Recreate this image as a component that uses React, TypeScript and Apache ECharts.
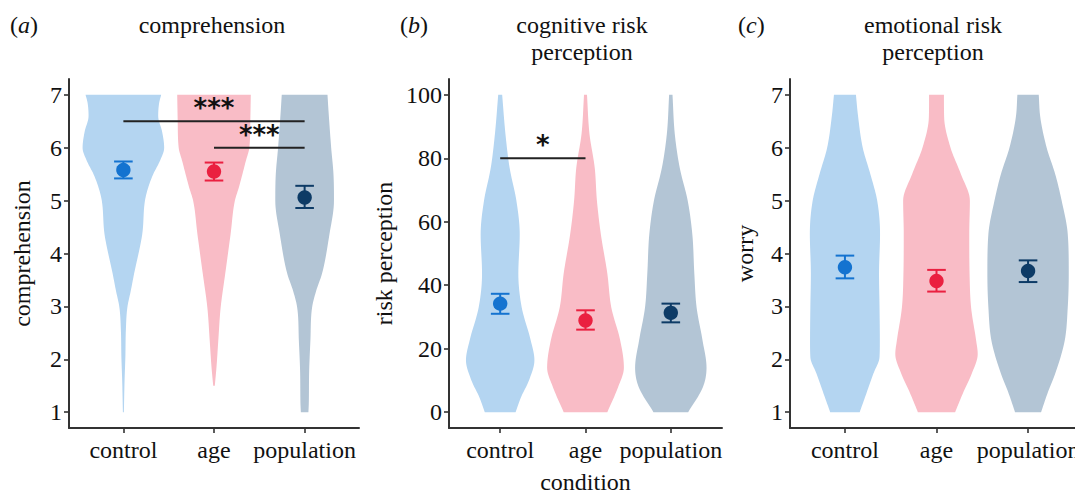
import React, { useEffect, useRef } from "react";
import * as echarts from "echarts";

const categories = ["control", "age", "population"];
const catPos = [1, 2, 3];

// violin outlines: [level, relative density width]
const compControl = [[1, 0.5], [1.6, 1.2], [2.04, 2], [2.55, 2.5], [2.98, 4], [3.3, 7.5], [3.62, 10.8], [4.37, 19], [5.0, 21.7], [5.25, 25], [5.5, 30], [5.75, 36.7], [6.0, 41], [6.3, 39], [6.6, 35], [6.85, 36], [7.0, 38]];
const compAge = [[1.5, 0.8], [1.85, 2.5], [2.35, 4.3], [2.98, 6.7], [3.62, 11.3], [4.37, 16.7], [5.0, 21], [5.25, 25], [5.75, 32], [6.0, 35.5], [6.5, 36.5], [7.0, 37]];
const compPop = [[1.0, 3.8], [1.17, 4.2], [1.73, 4.5], [2.35, 5.8], [2.98, 7.5], [3.3, 11.7], [3.62, 17.5], [4.37, 25], [5.0, 29.5], [5.5, 29], [6.0, 26.7], [6.7, 24], [7.0, 23]];

const riskControl = [[0, 15.5], [4.7, 21], [10, 29], [16.4, 34.5], [22.6, 30.8], [33, 21.7], [43.7, 18.3], [56, 19.7], [66.7, 16.3], [77, 9.5], [87.7, 5.3], [100, 2]];
const riskAge = [[0, 22], [8, 33], [14, 38.7], [22.6, 35], [33, 26], [43.7, 22], [56, 15.5], [66.7, 11.5], [77, 9.3], [87.7, 4], [100, 1.5]];
const riskPop = [[0, 17.5], [8, 32.5], [14, 36], [22.6, 32], [33, 26], [43.7, 23.7], [56, 21.7], [66.7, 17], [77, 9], [87.7, 4], [100, 1.7]];

const worryControl = [[1, 14.5], [1.35, 21], [1.73, 28], [2.04, 34], [2.35, 34.3], [2.98, 34], [3.62, 33.5], [4.37, 34.5], [5.0, 31.7], [5.5, 25], [6.0, 17.5], [6.58, 13], [7.0, 10.8]];
const worryAge = [[1, 18.3], [1.35, 25.8], [1.73, 34.7], [2.1, 40.5], [2.35, 39], [2.98, 34], [3.62, 32.5], [4.37, 32.2], [5.0, 32.8], [5.5, 24], [6.0, 13.8], [6.58, 7.5], [7.0, 7.3]];
const worryPop = [[1, 12.8], [1.35, 19], [1.73, 26.7], [2.35, 36], [2.98, 39], [3.62, 40], [4.37, 39], [5.0, 33], [5.5, 26.7], [6.0, 18.3], [6.58, 12], [7.0, 10.5]];

// means and error bars
const compMean = [5.58, 5.55, 5.06];
const compLo = [5.42, 5.38, 4.86];
const compHi = [5.74, 5.72, 5.28];
const riskMean = [34.2, 28.9, 31.3];
const riskLo = [31.0, 26.0, 28.3];
const riskHi = [37.3, 32.1, 34.2];
const worryMean = [3.74, 3.48, 3.67];
const worryLo = [3.53, 3.28, 3.46];
const worryHi = [3.96, 3.69, 3.87];

// significance brackets: [from, to, level]
const compSig = [[1, 3, 6.5], [2, 3, 6.0]];
const compSigLabels = ["***", "***"];
const riskSig = [[1, 2, 80]];
const riskSigLabels = ["*"];

const likertTicks = [1, 2, 3, 4, 5, 6, 7];
const riskTicks = [0, 20, 40, 60, 80, 100];

const violinColors = ["#b4d5f1", "#f9bcc6", "#b3c5d5"];
const pointColors = ["#1473d0", "#ea2040", "#0d3b66"];

const SERIF = "Liberation Serif";
const FS = 24;
const AXIS_COLOR = "#333333";
const TEXT_COLOR = "#111111";

// monotone cubic sampling of an outline (rendering only, for a smooth edge)
function smoothOutline(pts: number[][]): number[][] {
  const n = pts.length;
  if (n < 3) return pts;
  const xs = pts.map((p) => p[0]);
  const ys = pts.map((p) => p[1]);
  const d: number[] = [];
  for (let i = 0; i < n - 1; i++) d.push((ys[i + 1] - ys[i]) / (xs[i + 1] - xs[i]));
  const m: number[] = new Array(n).fill(0);
  m[0] = d[0];
  m[n - 1] = d[n - 2];
  for (let i = 1; i < n - 1; i++) m[i] = d[i - 1] * d[i] <= 0 ? 0 : (d[i - 1] + d[i]) / 2;
  for (let i = 0; i < n - 1; i++) {
    if (d[i] === 0) { m[i] = 0; m[i + 1] = 0; continue; }
    const a = m[i] / d[i];
    const b = m[i + 1] / d[i];
    const s = a * a + b * b;
    if (s > 9) {
      const t = 3 / Math.sqrt(s);
      m[i] = t * a * d[i];
      m[i + 1] = t * b * d[i];
    }
  }
  const out: number[][] = [];
  const steps = 10;
  for (let i = 0; i < n - 1; i++) {
    const h = xs[i + 1] - xs[i];
    for (let k = 0; k < steps; k++) {
      const t = k / steps;
      const t2 = t * t, t3 = t2 * t;
      const h00 = 2 * t3 - 3 * t2 + 1, h10 = t3 - 2 * t2 + t, h01 = -2 * t3 + 3 * t2, h11 = t3 - t2;
      const y = h00 * ys[i] + h10 * h * m[i] + h01 * ys[i + 1] + h11 * h * m[i + 1];
      out.push([xs[i] + t * h, Math.max(0, y)]);
    }
  }
  out.push([xs[n - 1], ys[n - 1]]);
  return out;
}

function violinRender(shapes: number[][][], maxHw: number) {
  let maxD = 0;
  shapes.forEach((s) => s.forEach((p) => { if (p[1] > maxD) maxD = p[1]; }));
  const scale = maxHw / maxD;
  const smooth = shapes.map(smoothOutline);
  return (params: any, api: any) => {
    const i = params.dataIndex;
    const cx = api.value(0);
    const pts = smooth[i];
    const right = pts.map(([y, w]) => api.coord([cx + w * scale, y]));
    const left = pts.slice().reverse().map(([y, w]) => api.coord([cx - w * scale, y]));
    return {
      type: "polygon",
      shape: { points: right.concat(left) },
      style: { fill: violinColors[i] },
    };
  };
}

function errRender(params: any, api: any) {
  const x = api.value(0);
  const m = api.value(1);
  const lo = api.value(2);
  const hi = api.value(3);
  const pM = api.coord([x, m]);
  const pL = api.coord([x, lo]);
  const pH = api.coord([x, hi]);
  const c = pointColors[params.dataIndex];
  const cap = 9.3;
  const st = { stroke: c, lineWidth: 2 };
  return {
    type: "group",
    children: [
      { type: "line", shape: { x1: pL[0], y1: pL[1], x2: pH[0], y2: pH[1] }, style: st },
      { type: "line", shape: { x1: pL[0] - cap, y1: pL[1], x2: pL[0] + cap, y2: pL[1] }, style: st },
      { type: "line", shape: { x1: pH[0] - cap, y1: pH[1], x2: pH[0] + cap, y2: pH[1] }, style: st },
      { type: "circle", shape: { cx: pM[0], cy: pM[1], r: 7.2 }, style: { fill: c } },
    ],
  };
}

function sigRender(labels: string[]) {
  return (params: any, api: any) => {
    const a = api.coord([api.value(0), api.value(2)]);
    const b = api.coord([api.value(1), api.value(2)]);
    const mid = (a[0] + b[0]) / 2;
    return {
      type: "group",
      children: [
        { type: "line", shape: { x1: a[0], y1: a[1], x2: b[0], y2: b[1] }, style: { stroke: "#222", lineWidth: 2 } },
        {
          type: "text",
          style: {
            text: labels[params.dataIndex],
            x: mid,
            y: a[1],
            align: "center",
            textAlign: "center",
            verticalAlign: "bottom",
            textVerticalAlign: "bottom",
            fontSize: 26,
            fontWeight: "bold",
            fontFamily: "DejaVu Sans",
            fill: "#111",
          },
        },
      ],
    };
  };
}

function xAxis(gridIndex: number, name: string) {
  return {
    type: "value",
    gridIndex,
    min: 0.4,
    max: 3.6,
    name,
    nameLocation: "middle",
    nameGap: 42,
    nameTextStyle: { fontFamily: SERIF, fontSize: FS, color: TEXT_COLOR },
    splitLine: { show: false },
    axisLine: { show: true, onZero: false, lineStyle: { color: AXIS_COLOR, width: 2 } },
    axisTick: { show: true, length: 5, customValues: catPos, lineStyle: { color: AXIS_COLOR, width: 1.6 } },
    axisLabel: {
      customValues: catPos,
      margin: 10,
      fontFamily: SERIF,
      fontSize: FS,
      color: TEXT_COLOR,
      formatter: (v: number) => categories[Math.round(v) - 1] || "",
    },
  };
}

function yAxis(gridIndex: number, min: number, max: number, ticks: number[], name: string, gap: number) {
  return {
    type: "value",
    gridIndex,
    min,
    max,
    name,
    nameLocation: "middle",
    nameGap: gap,
    nameTextStyle: { fontFamily: SERIF, fontSize: FS, color: TEXT_COLOR },
    splitLine: { show: false },
    axisLine: { show: true, onZero: false, lineStyle: { color: AXIS_COLOR, width: 2 } },
    axisTick: { show: true, length: 5, customValues: ticks, lineStyle: { color: AXIS_COLOR, width: 1.6 } },
    axisLabel: { customValues: ticks, margin: 7, fontFamily: SERIF, fontSize: FS, color: TEXT_COLOR },
  };
}

function errData(mean: number[], lo: number[], hi: number[]) {
  return catPos.map((p, i) => [p, mean[i], lo[i], hi[i]]);
}

function titleText(x: number, text: string) {
  return {
    type: "text",
    x,
    y: 11,
    style: {
      text,
      align: "center",
      textAlign: "center",
      verticalAlign: "top",
      textVerticalAlign: "top",
      fontFamily: SERIF,
      fontSize: FS,
      lineHeight: 27,
      fill: TEXT_COLOR,
    },
  };
}

function tagText(x: number, letter: string) {
  return {
    type: "text",
    x,
    y: 11,
    style: {
      text: "{n|(}{i|" + letter + "}{n|)}",
      align: "left",
      verticalAlign: "top",
      fontFamily: SERIF,
      fontSize: FS,
      lineHeight: 27,
      fill: TEXT_COLOR,
      rich: {
        n: { fontFamily: SERIF, fontSize: FS, lineHeight: 27, fill: TEXT_COLOR, color: TEXT_COLOR },
        i: { fontFamily: SERIF, fontSize: FS, lineHeight: 27, fontStyle: "italic", fill: TEXT_COLOR, color: TEXT_COLOR },
      },
    },
  };
}

export default function App() {
  const ref = useRef<HTMLDivElement>(null);
  useEffect(() => {
    if (!ref.current) return;
    const chart = echarts.init(ref.current, undefined, { renderer: "svg" });
    const gridBase = { top: 79, height: 349, containLabel: false, outerBoundsMode: "none" };
    const option: any = {
      animation: false,
      backgroundColor: "#ffffff",
      grid: [
        { ...gridBase, left: 69, width: 290 },
        { ...gridBase, left: 449, width: 273 },
        { ...gridBase, left: 790, width: 293 },
      ],
      xAxis: [xAxis(0, ""), xAxis(1, "condition"), xAxis(2, "")],
      yAxis: [
        yAxis(0, 0.7, 7.3, likertTicks, "comprehension", 35),
        yAxis(1, -5, 105, riskTicks, "risk perception", 53),
        yAxis(2, 0.7, 7.3, likertTicks, "worry", 33),
      ],
      series: [
        { type: "custom", xAxisIndex: 0, yAxisIndex: 0, renderItem: violinRender([compControl, compAge, compPop], 0.45), data: catPos.map((p) => [p, 4]), silent: true },
        { type: "custom", xAxisIndex: 1, yAxisIndex: 1, renderItem: violinRender([riskControl, riskAge, riskPop], 0.45), data: catPos.map((p) => [p, 50]), silent: true },
        { type: "custom", xAxisIndex: 2, yAxisIndex: 2, renderItem: violinRender([worryControl, worryAge, worryPop], 0.45), data: catPos.map((p) => [p, 4]), silent: true },
        { type: "custom", xAxisIndex: 0, yAxisIndex: 0, renderItem: errRender, data: errData(compMean, compLo, compHi), silent: true },
        { type: "custom", xAxisIndex: 1, yAxisIndex: 1, renderItem: errRender, data: errData(riskMean, riskLo, riskHi), silent: true },
        { type: "custom", xAxisIndex: 2, yAxisIndex: 2, renderItem: errRender, data: errData(worryMean, worryLo, worryHi), silent: true },
        { type: "custom", xAxisIndex: 0, yAxisIndex: 0, renderItem: sigRender(compSigLabels), data: compSig, silent: true, clip: false },
        { type: "custom", xAxisIndex: 1, yAxisIndex: 1, renderItem: sigRender(riskSigLabels), data: riskSig, silent: true, clip: false },
      ],
      graphic: [
        tagText(10, "a"),
        titleText(212, "comprehension"),
        tagText(400, "b"),
        titleText(582, "cognitive risk\nperception"),
        tagText(738, "c"),
        titleText(933, "emotional risk\nperception"),
      ],
    };
    chart.setOption(option);
    return () => chart.dispose();
  }, []);
  return <div ref={ref} style={{ position: "fixed", left: 0, top: 0, width: 1075, height: 494 }} />;
}
